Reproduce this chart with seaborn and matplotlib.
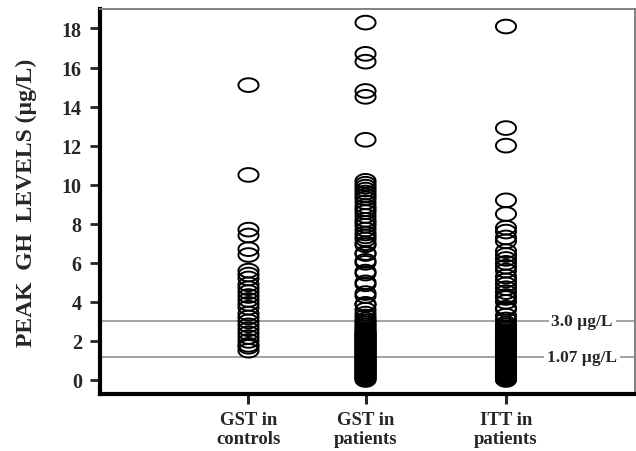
import numpy as np
import pandas as pd
import matplotlib
matplotlib.use("Agg")
import matplotlib.pyplot as plt
from matplotlib.path import Path
import seaborn as sns

# peak GH values (ug/L)
groups = ["GST in\ncontrols", "GST in\npatients", "ITT in\npatients"]

gst_controls = [15.1, 10.5, 7.7, 7.4, 6.7, 6.4, 5.6, 5.4, 5.2, 4.9, 4.7, 4.5,
                4.3, 4.1, 3.9, 3.7, 3.4, 3.2, 3.0, 2.8, 2.6, 2.4, 2.2, 2.0,
                1.8, 1.7, 1.5]

gst_patients = [18.3, 16.7, 16.3, 14.8, 14.5, 12.3, 10.2, 10.05, 9.9, 9.75,
                9.6, 9.45, 9.3, 9.1, 8.9, 8.75, 8.6, 8.4, 8.2, 8.05, 7.9, 7.7,
                7.5, 7.35, 7.2, 7.0, 6.9, 6.5, 6.45, 6.1, 6.0, 5.55, 5.45, 5.0,
                4.9, 4.45, 4.3, 3.9, 3.85, 3.6, 3.4, 3.25, 3.1, 3.0, 2.9, 2.8,
                2.7, 2.6, 2.5, 2.45, 2.4, 2.35, 2.3, 2.25, 2.2, 2.15, 2.1,
                2.05, 2.0, 1.95, 1.9, 1.85, 1.8, 1.75, 1.7, 1.65, 1.6, 1.55,
                1.5, 1.45, 1.4, 1.35, 1.3, 1.25, 1.2, 1.15, 1.1, 1.05, 1.0,
                0.95, 0.9, 0.85, 0.8, 0.75, 0.7, 0.65, 0.6, 0.55, 0.5, 0.45,
                0.4, 0.35, 0.3, 0.25, 0.2, 0.15, 0.1, 0.05, 0.0]

itt_patients = [18.1, 12.9, 12.0, 9.2, 8.5, 7.8, 7.6, 7.3, 7.1, 6.6, 6.4, 6.2,
                6.0, 5.8, 5.6, 5.3, 5.1, 4.9, 4.7, 4.5, 4.3, 4.2, 4.0, 3.7,
                3.6, 3.3, 3.1, 2.9, 2.8, 2.7, 2.6, 2.5, 2.45, 2.4, 2.35, 2.3,
                2.25, 2.2, 2.15, 2.1, 2.05, 2.0, 1.95, 1.9, 1.85, 1.8, 1.75,
                1.7, 1.65, 1.6, 1.55, 1.5, 1.45, 1.4, 1.35, 1.3, 1.25, 1.2,
                1.15, 1.1, 1.05, 1.0, 0.95, 0.9, 0.85, 0.8, 0.75, 0.7, 0.65,
                0.6, 0.55, 0.5, 0.45, 0.4, 0.35, 0.3, 0.25, 0.2, 0.15, 0.1,
                0.05, 0.0]

cutoffs = [3.0, 1.2]
cutoff_labels = ["3.0 \u00b5g/L", "1.07 \u00b5g/L"]

yticks = [0, 2, 4, 6, 8, 10, 12, 14, 16, 18]

# x positions of the three columns (uneven in the original)
group_pos = [0, 1, 2.2]

rows = []
for g, pos, vals in zip(groups, group_pos, [gst_controls, gst_patients, itt_patients]):
    for v in vals:
        rows.append({"group": g, "pos": pos, "gh": v})
df = pd.DataFrame(rows)

sns.set_style("white")
plt.rcParams["font.family"] = ["Liberation Serif", "DejaVu Serif"]
plt.rcParams["font.weight"] = "bold"

fig = plt.figure(figsize=(6.36, 4.52), dpi=100)
ax = fig.add_axes([0.157, 0.126, 0.841, 0.852])

# wide open ellipse marker
t = np.linspace(0, 2 * np.pi, 60)
ellipse = Path(np.column_stack([np.cos(t), 0.68 * np.sin(t)]))

sns.scatterplot(data=df, x="pos", y="gh", marker=ellipse, s=210,
                color="none", edgecolor="black", linewidth=1.4, ax=ax,
                legend=False, zorder=3)

for c, lab in zip(cutoffs, cutoff_labels):
    ax.axhline(c, color="#8a8a8a", linewidth=1.1, zorder=1)
    ax.text(2.85, c, lab, ha="center", va="center", fontsize=12.5,
            fontweight="bold", zorder=4,
            bbox=dict(facecolor="white", edgecolor="none", pad=2))

ax.set_xlim(-1.27, 3.3)
ax.set_ylim(-0.72, 19.0)
ax.set_yticks(yticks)
ax.set_yticklabels([str(v) for v in yticks], fontsize=14.5, fontweight="bold")
ax.set_xticks(group_pos)
ax.set_xticklabels(groups, fontsize=13.5, fontweight="bold", linespacing=1.2)
ax.set_xlabel("")
ax.set_ylabel("PEAK  GH  LEVELS (\u00b5g/L)", fontsize=17, fontweight="bold")
ax.yaxis.set_label_coords(-0.118, 0.5)

for side in ["left", "bottom"]:
    ax.spines[side].set_linewidth(3)
    ax.spines[side].set_color("black")
for side in ["top", "right"]:
    ax.spines[side].set_linewidth(1.3)
    ax.spines[side].set_color("#777777")

ax.tick_params(axis="y", which="major", direction="out", length=7, width=2,
               left=True, pad=6)
ax.tick_params(axis="x", which="major", direction="out", length=7, width=2.2,
               bottom=True, pad=5)

fig.savefig("out.png", dpi=100)
